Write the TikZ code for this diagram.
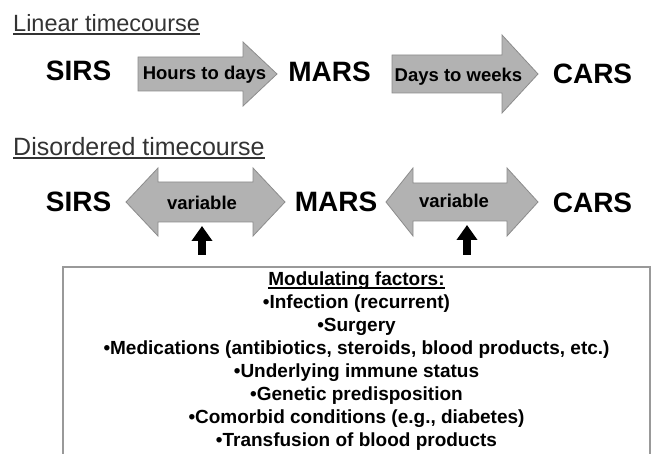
\documentclass[tikz,border=0pt]{standalone}
\usepackage{fontspec}
\setmainfont{Liberation Sans}
\usetikzlibrary{arrows.meta,positioning}

\begin{document}
\begin{tikzpicture}[x=1pt, y=-1pt,
  title/.style={text=black!80, inner sep=0, anchor=base west},
  stage/.style={font=\bfseries\fontsize{28}{32}\selectfont, inner sep=0, anchor=base},
  lbl/.style={font=\bfseries\fontsize{18.5}{22}\selectfont, inner sep=0, anchor=base},
  blk/.style={fill=black!30, draw=black!45, line width=0.8pt},
  uline/.style={line width=1.4pt},
  up/.style={line width=8pt, -{Triangle[width=20pt, length=15pt]}},
  item/.style={font=\bfseries\fontsize{19}{23}\selectfont, inner sep=0, align=center}]
\useasboundingbox (0,0) rectangle (651,454);

% linear timecourse
\node[title, font=\fontsize{23.5}{28}\selectfont] (lin) at (13,32) {Linear timecourse};
\draw[uline, black!80] ([yshift=-2pt]lin.base west) -- ([yshift=-2pt]lin.base east);
\node[stage] (sirs1) at (78.5,81) {SIRS};
\node[stage] (mars1) at (329.5,82) {MARS};
\node[stage] (cars1) at (592.5,84) {CARS};
\draw[blk] (138,57) -- (243,57) -- (243,42) -- (277,74) -- (243,106) -- (243,91) -- (138,91) -- cycle;
\draw[blk] (392,55) -- (502,55) -- (502,35) -- (538,74) -- (502,113) -- (502,93) -- (392,93) -- cycle;
\node[lbl] (hrs) at (204.5,80) {Hours to days};
\node[lbl] (dys) at (458.5,82) {Days to weeks};

% disordered timecourse
\node[title, font=\fontsize{25}{30}\selectfont] (dis) at (13,156) {Disordered timecourse};
\draw[uline, black!80] ([yshift=-2pt]dis.base west) -- ([yshift=-2pt]dis.base east);
\node[stage] (sirs2) at (78.5,212) {SIRS};
\node[stage] (mars2) at (336,212) {MARS};
\node[stage] (cars2) at (592.5,213) {CARS};
\draw[blk] (126,202) -- (158,168) -- (158,182) -- (253,182) -- (253,168) -- (285,202)
  -- (253,236) -- (253,222) -- (158,222) -- (158,236) -- cycle;
\draw[blk] (386,202) -- (413,168) -- (413,183) -- (507,183) -- (507,168) -- (538,202)
  -- (507,236) -- (507,221) -- (413,221) -- (413,236) -- cycle;
\node[lbl] (var1) at (202,210) {variable};
\node[lbl] (var2) at (454,208) {variable};

% modulating factors
\coordinate (u1) at (202,255);
\coordinate (t1) at (202,226);
\coordinate (u2) at (467,255);
\coordinate (t2) at (467,225);
\draw[up] (u1) -- (t1);
\draw[up] (u2) -- (t2);
\draw[gray!80, line width=1.5pt] (63,454) -- (63,267) -- (650,267) -- (650,454);
\node[item, anchor=base] (mod) at (356.5,286) {Modulating factors:};
\draw[line width=1.1pt] ([yshift=-2pt]mod.base west) -- ([yshift=-2pt]mod.base east);
\node[item, anchor=north] (fac) at (356.5,295) {{\textbullet}Infection (recurrent)\\
  {\textbullet}Surgery\\
  {\textbullet}Medications (antibiotics, steroids, blood products, etc.)\\
  {\textbullet}Underlying immune status\\
  {\textbullet}Genetic predisposition\\
  {\textbullet}Comorbid conditions (e.g., diabetes)\\
  {\textbullet}Transfusion of blood products};
\end{tikzpicture}
\end{document}
